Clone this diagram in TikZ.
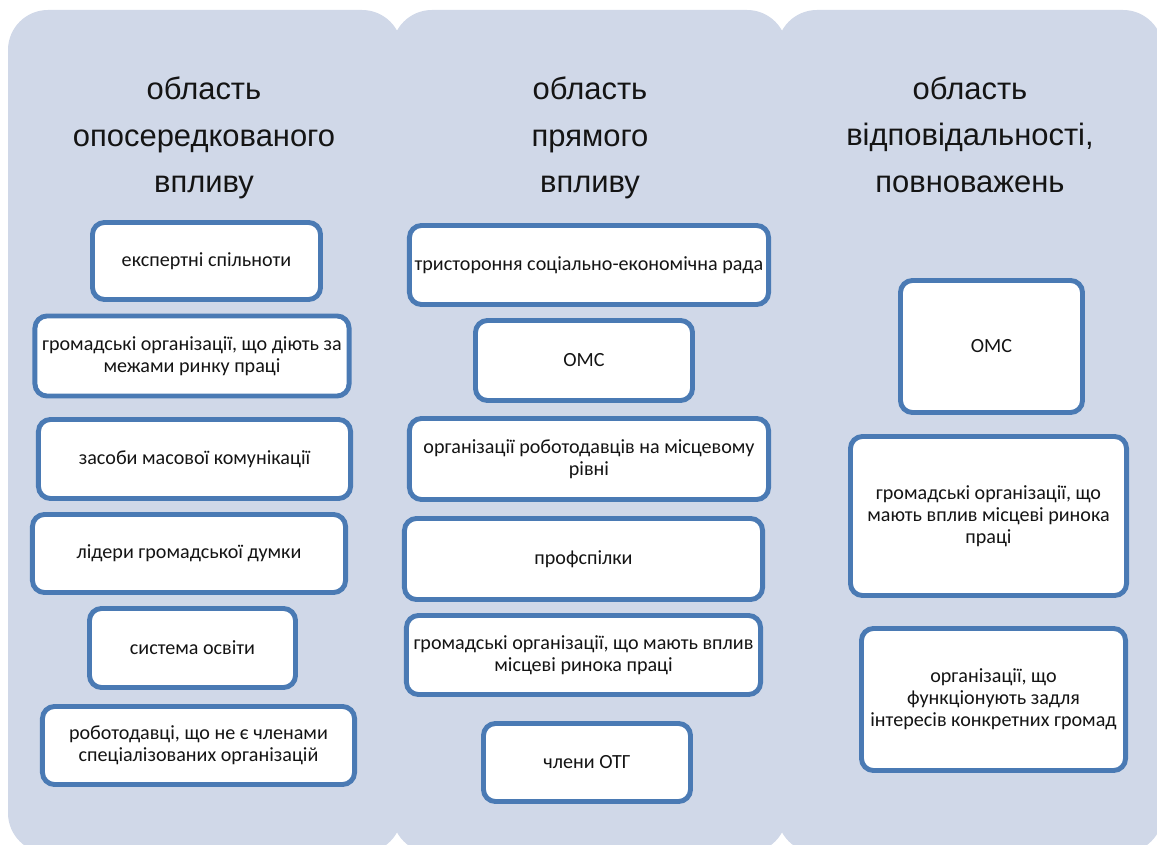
\documentclass[tikz,border=0pt]{standalone}
\usepackage{fontspec}
\setmainfont{Carlito}
\newfontfamily\headfont{Liberation Sans}
\definecolor{panelfill}{HTML}{D0D8E8}
\definecolor{boxline}{HTML}{4A7AB4}
\definecolor{inktext}{HTML}{141414}

\begin{document}
\begin{tikzpicture}[x=0.025cm, y=-0.025cm,
  panel/.style={fill=panelfill, rounded corners=1cm},
  head/.style={font=\headfont\fontsize{22}{33}\selectfont, align=center, text=inktext, inner sep=0pt},
  box/.style={draw=boxline, line width=3.5pt, fill=white, rounded corners=0.3cm, align=center, text=inktext, inner sep=2pt, font=\fontsize{14.3}{15.6}\selectfont}]
\clip (0,0) rectangle (1157,845);
\fill[white] (0,0) rectangle (1157,845);
% three areas
\fill[panel] (8,10) rectangle (402,853);
\fill[panel] (392,10) rectangle (787,853);
\fill[panel] (777,10) rectangle (1163,853);

\node[head] (hIndirect) at (204,138) {область\\опосередкованого\\впливу};
\node[head] (hDirect) at (590,138) {область\\прямого\\впливу};
\node[head] (hResp) at (970,134.5) {область\\відповідальності,\\повноважень};

% indirect influence
\node[box, minimum width=5.7cm, minimum height=1.925cm] (experts) at (206.5,261) {експертні спільноти};
\node[box, minimum width=7.85cm, minimum height=2cm] (ngoOut) at (192,356) {громадські організації, що діють за\\межами ринку праці};
\node[box, minimum width=7.8cm, minimum height=1.975cm] (media) at (194.5,459) {засоби масової комунікації};
\node[box, minimum width=7.825cm, minimum height=1.95cm] (leaders) at (189,553.5) {лідери громадської думки};
\node[box, minimum width=5.15cm, minimum height=1.975cm] (educ) at (192.5,648) {система освіти};
\node[box, minimum width=7.8cm, minimum height=1.95cm] (employers) at (198.5,745.5) {роботодавці, що не є членами\\спеціалізованих організацій};

% direct influence
\node[box, minimum width=8.975cm, minimum height=1.975cm] (council) at (589,265) {тристороння соціально-економічна рада};
\node[box, minimum width=5.425cm, minimum height=2cm] (omsA) at (584,360.5) {ОМС};
\node[box, minimum width=8.975cm, minimum height=2.025cm] (empOrg) at (589,459) {організації роботодавців на місцевому\\рівні};
\node[box, minimum width=8.95cm, minimum height=2.025cm] (unions) at (583.5,559) {профспілки};
\node[box, minimum width=8.85cm, minimum height=1.975cm] (ngoA) at (583.5,655) {громадські організації, що мають вплив\\місцеві ринока праці};
\node[box, minimum width=5.175cm, minimum height=1.95cm] (members) at (587,762.5) {члени ОТГ};

% responsibility
\node[box, minimum width=4.55cm, minimum height=3.3cm] (omsB) at (991.5,346.5) {ОМС};
\node[box, minimum width=6.9cm, minimum height=3.975cm] (ngoB) at (988.5,516) {громадські організації, що\\мають вплив місцеві ринока\\праці};
\node[box, minimum width=6.6cm, minimum height=3.55cm] (local) at (993.5,699.5) {організації, що\\функціонують задля\\інтересів конкретних громад};
\end{tikzpicture}
\end{document}
